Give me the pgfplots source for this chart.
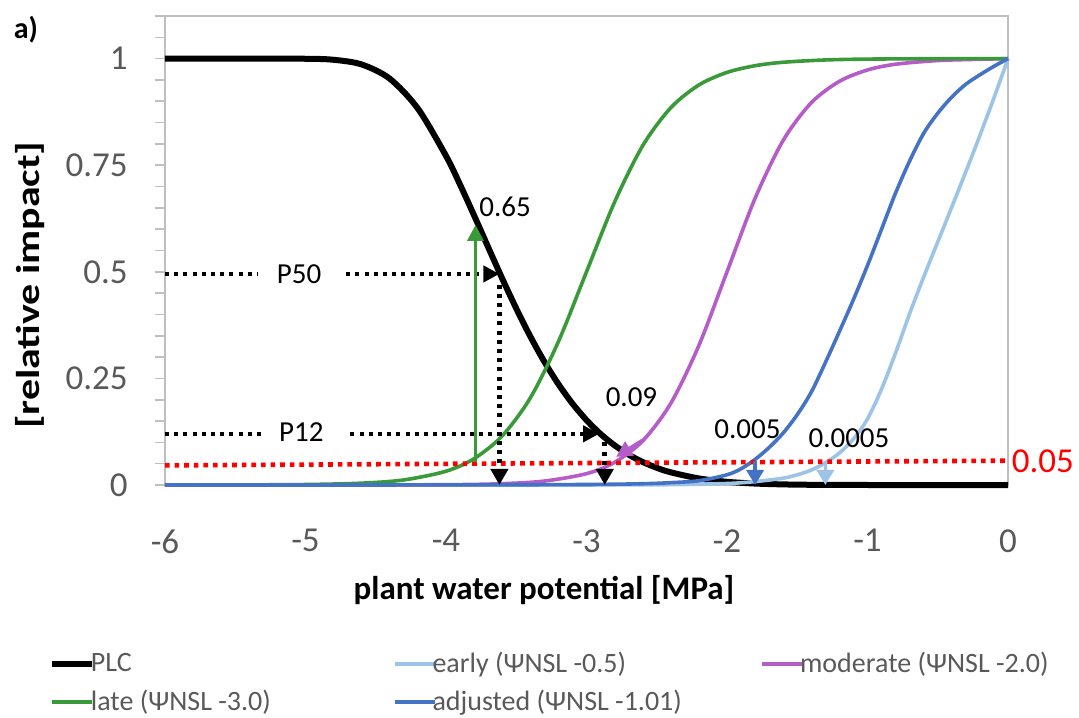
\documentclass[border=0pt]{standalone}
\usepackage{fontspec}
\setmainfont{Carlito}
\usepackage{graphicx}
\usepackage{pgfplots}
\pgfplotsset{compat=1.18}
\usetikzlibrary{arrows.meta}

\definecolor{earlyblue}{HTML}{9DC3E6}
\definecolor{modpurple}{HTML}{B65CC8}
\definecolor{lategreen}{HTML}{3A9A3A}
\definecolor{adjblue}{HTML}{4472C4}
\definecolor{axgray}{HTML}{BFBFBF}
\definecolor{txtgray}{HTML}{595959}

\begin{document}
\begin{tikzpicture}
% page frame, 1 px = 0.5pt
\path (-82.5pt,-115pt) rectangle (457pt,242.5pt);
\begin{axis}[
    at={(0,0)}, anchor=south west,
    scale only axis, width=421.5pt, height=234.5pt,
    xmin=-6, xmax=0, ymin=0, ymax=1.1,
    clip=false,
    axis line style={axgray, line width=0.8pt},
    tick pos=left, tick align=outside,
    xtick={-6,-5,-4,-3,-2,-1,0},
    xticklabels={-6,-5,-4,-3,-2,-1,0},
    xtick style={draw=none},
    ytick={0,0.25,0.5,0.75,1},
    yticklabels={0,0.25,0.5,0.75,1},
    minor ytick={0.05,0.1,0.15,0.2,0.3,0.35,0.4,0.45,0.55,0.6,0.65,0.7,0.8,0.85,0.9,0.95,1.05,1.1},
    ytick style={axgray, line width=0.8pt},
    major tick length=5pt, minor tick length=5pt,
    every tick label/.append style={font=\fontsize{17.5}{20}\selectfont, text=txtgray, inner sep=0pt},
    yticklabel style={anchor=east, xshift=-13.5pt},
    xticklabel style={anchor=north, yshift=-17pt},
    xlabel={plant water potential [MPa]},
    xlabel style={at={(axis description cs:0.4496,-0.224)}, anchor=center,
      font=\bfseries\fontsize{16.5}{19}\selectfont},
    ylabel={\scalebox{1.27}[1]{[relative impact]}},
    ylabel style={at={(axis description cs:-0.16,0.426)}, anchor=center,
      font=\bfseries\fontsize{16.5}{19}\selectfont},
    legend columns=3,
    legend cell align=left,
    legend style={at={(axis description cs:-0.1453,-0.4221)}, anchor=west,
      draw=none, fill=none, column sep=0pt, row sep=7pt,
      font=\fontsize{14}{16}\selectfont, text=txtgray,
      nodes={inner sep=0pt}},
    legend image code/.code={\draw[#1] (0pt,0pt) -- (20pt,0pt);},
  ]

  % PLC
  \addplot[black, line width=3pt, smooth] coordinates {
      (-6,1) (-5.5,1) (-5.0,0.9997) (-4.8,0.9973) (-4.6,0.9863) (-4.4,0.9529)
      (-4.2,0.8828) (-4.0,0.7719) (-3.9,0.7045) (-3.8,0.6321) (-3.7,0.5579)
      (-3.6,0.4843) (-3.5,0.414) (-3.4,0.3485) (-3.3,0.2891) (-3.2,0.2366)
      (-3.1,0.191) (-3.0,0.1522) (-2.9,0.1197) (-2.8,0.093) (-2.7,0.0712)
      (-2.6,0.054) (-2.5,0.0403) (-2.4,0.0297) (-2.2,0.0154) (-2.0,0.0075)
      (-1.8,0.0034) (-1.6,0.0014) (-1.4,0.0005) (-1.0,0) (0,0)
    };
  \addlegendentry{\makebox[149pt][l]{\hspace{-2pt}PLC}}

  % early
  \addplot[earlyblue, line width=1.8pt, smooth] coordinates {
      (-6,0) (-3,0.0001) (-2.4,0.0008) (-2.0,0.0035) (-1.8,0.008) (-1.6,0.016)
      (-1.5,0.024) (-1.4,0.035) (-1.3,0.052) (-1.2,0.075) (-1.1,0.108)
      (-1.0,0.155) (-0.9,0.225) (-0.8,0.31) (-0.7,0.402) (-0.6,0.488)
      (-0.5,0.57) (-0.4,0.652) (-0.3,0.735) (-0.2,0.82) (-0.1,0.908) (0,1)
    };
  \addlegendentry{\makebox[162pt][l]{\hspace{-2pt}early (ΨNSL -0.5)}}

  % moderate
  \addplot[modpurple, line width=1.8pt, smooth] coordinates {
      (-6,0) (-5,0) (-4,0.0007) (-3.6,0.0031) (-3.3,0.0092) (-3.0,0.0266)
      (-2.8,0.0532) (-2.6,0.1034) (-2.4,0.1916) (-2.2,0.3274) (-2.0,0.5)
      (-1.8,0.6726) (-1.6,0.8084) (-1.4,0.8966) (-1.2,0.9468) (-1.0,0.9734)
      (-0.8,0.9869) (-0.5,0.9955) (-0.2,0.9985) (0,1)
    };
  \addlegendentry{\hspace{-2pt}moderate (ΨNSL -2.0)}

  % late
  \addplot[lategreen, line width=1.8pt, smooth] coordinates {
      (-6,0) (-5.5,0.0002) (-5.0,0.0011) (-4.6,0.0043) (-4.3,0.0119)
      (-4.0,0.0323) (-3.8,0.0618) (-3.6,0.1151) (-3.4,0.2042) (-3.2,0.3363)
      (-3.0,0.5) (-2.8,0.6637) (-2.6,0.7958) (-2.4,0.8849) (-2.2,0.9382)
      (-2.0,0.9677) (-1.8,0.9834) (-1.6,0.9915) (-1.3,0.9969) (-1.0,0.9989)
      (-0.5,0.9998) (0,1)
    };
  \addlegendentry{\hspace{-2pt}late (ΨNSL -3.0)}

  % adjusted
  \addplot[adjblue, line width=1.8pt, smooth] coordinates {
      (-6,0) (-4,0.0002) (-3,0.0012) (-2.6,0.003) (-2.4,0.0055) (-2.2,0.01)
      (-2.0,0.024) (-1.9,0.038) (-1.8,0.06) (-1.7,0.088) (-1.6,0.122)
      (-1.5,0.165) (-1.4,0.218) (-1.3,0.287) (-1.2,0.36) (-1.1,0.435)
      (-1.0,0.515) (-0.9,0.6) (-0.8,0.685) (-0.7,0.76) (-0.6,0.825)
      (-0.5,0.872) (-0.4,0.91) (-0.3,0.94) (-0.2,0.962) (-0.1,0.982) (0,1)
    };
  \addlegendentry{\hspace{-2pt}adjusted (ΨNSL -1.01)}

  % threshold line
  \addplot[red, line width=2.3pt, dash pattern=on 2.3pt off 2.5pt, forget plot]
    coordinates {(-6,0.046) (0,0.057)};

  % P50 / P12 guides
  \addplot[black, line width=2.3pt, dash pattern=on 2pt off 2.6pt, forget plot]
    coordinates {(-6,0.495) (-5.34,0.495)};
  \addplot[black, line width=2.3pt, dash pattern=on 2pt off 2.6pt, forget plot,
    -{Triangle[length=8pt,width=8pt]}]
    coordinates {(-4.71,0.495) (-3.62,0.495)};
  \addplot[black, line width=2.3pt, dash pattern=on 2pt off 2.6pt, forget plot,
    -{Triangle[length=8pt,width=8.5pt]}]
    coordinates {(-3.62,0.47) (-3.62,0)};
  \addplot[black, line width=2.3pt, dash pattern=on 2pt off 2.6pt, forget plot]
    coordinates {(-6,0.12) (-5.30,0.12)};
  \addplot[black, line width=2.3pt, dash pattern=on 2pt off 2.6pt, forget plot,
    -{Triangle[length=8pt,width=8pt]}]
    coordinates {(-4.68,0.12) (-2.91,0.12)};
  \addplot[black, line width=2.3pt, dash pattern=on 2pt off 2.6pt, forget plot,
    -{Triangle[length=8pt,width=8.5pt]}]
    coordinates {(-2.87,0.1) (-2.87,0)};

  % coloured arrows
  \addplot[lategreen, line width=1.8pt, forget plot, -{Triangle[length=8pt,width=8pt]}]
    coordinates {(-3.79,0.055) (-3.79,0.61)};
  \addplot[modpurple, line width=1.8pt, forget plot, -{Triangle[length=8pt,width=8pt]}]
    coordinates {(-2.6,0.105) (-2.79,0.066)};
  \addplot[adjblue, line width=1.8pt, forget plot, -{Triangle[length=7.5pt,width=8.5pt]}]
    coordinates {(-1.8,0.056) (-1.8,0)};
  \addplot[earlyblue, line width=1.8pt, forget plot, -{Triangle[length=7.5pt,width=8.5pt]}]
    coordinates {(-1.3,0.054) (-1.3,0)};

  % annotations
  \begin{scope}[font=\fontsize{14.5}{17}\selectfont]
    \node at (axis cs:-3.58,0.653) {0.65};
    \node at (axis cs:-2.68,0.207) {0.09};
    \node at (axis cs:-1.854,0.131) {0.005};
    \node at (axis cs:-1.132,0.11) {0.0005};
    \node at (axis cs:-5.046,0.495) {P50};
    \node at (axis cs:-5.03,0.125) {P12};
  \end{scope}
  \node[anchor=west, inner sep=0pt, text=red, font=\fontsize{17.5}{20}\selectfont]
    at (axis cs:0.025,0.056) {0.05};
  \node[font=\bfseries\fontsize{15}{18}\selectfont]
    at (axis description cs:-0.165,0.97) {a)};
\end{axis}
\end{tikzpicture}
\end{document}
